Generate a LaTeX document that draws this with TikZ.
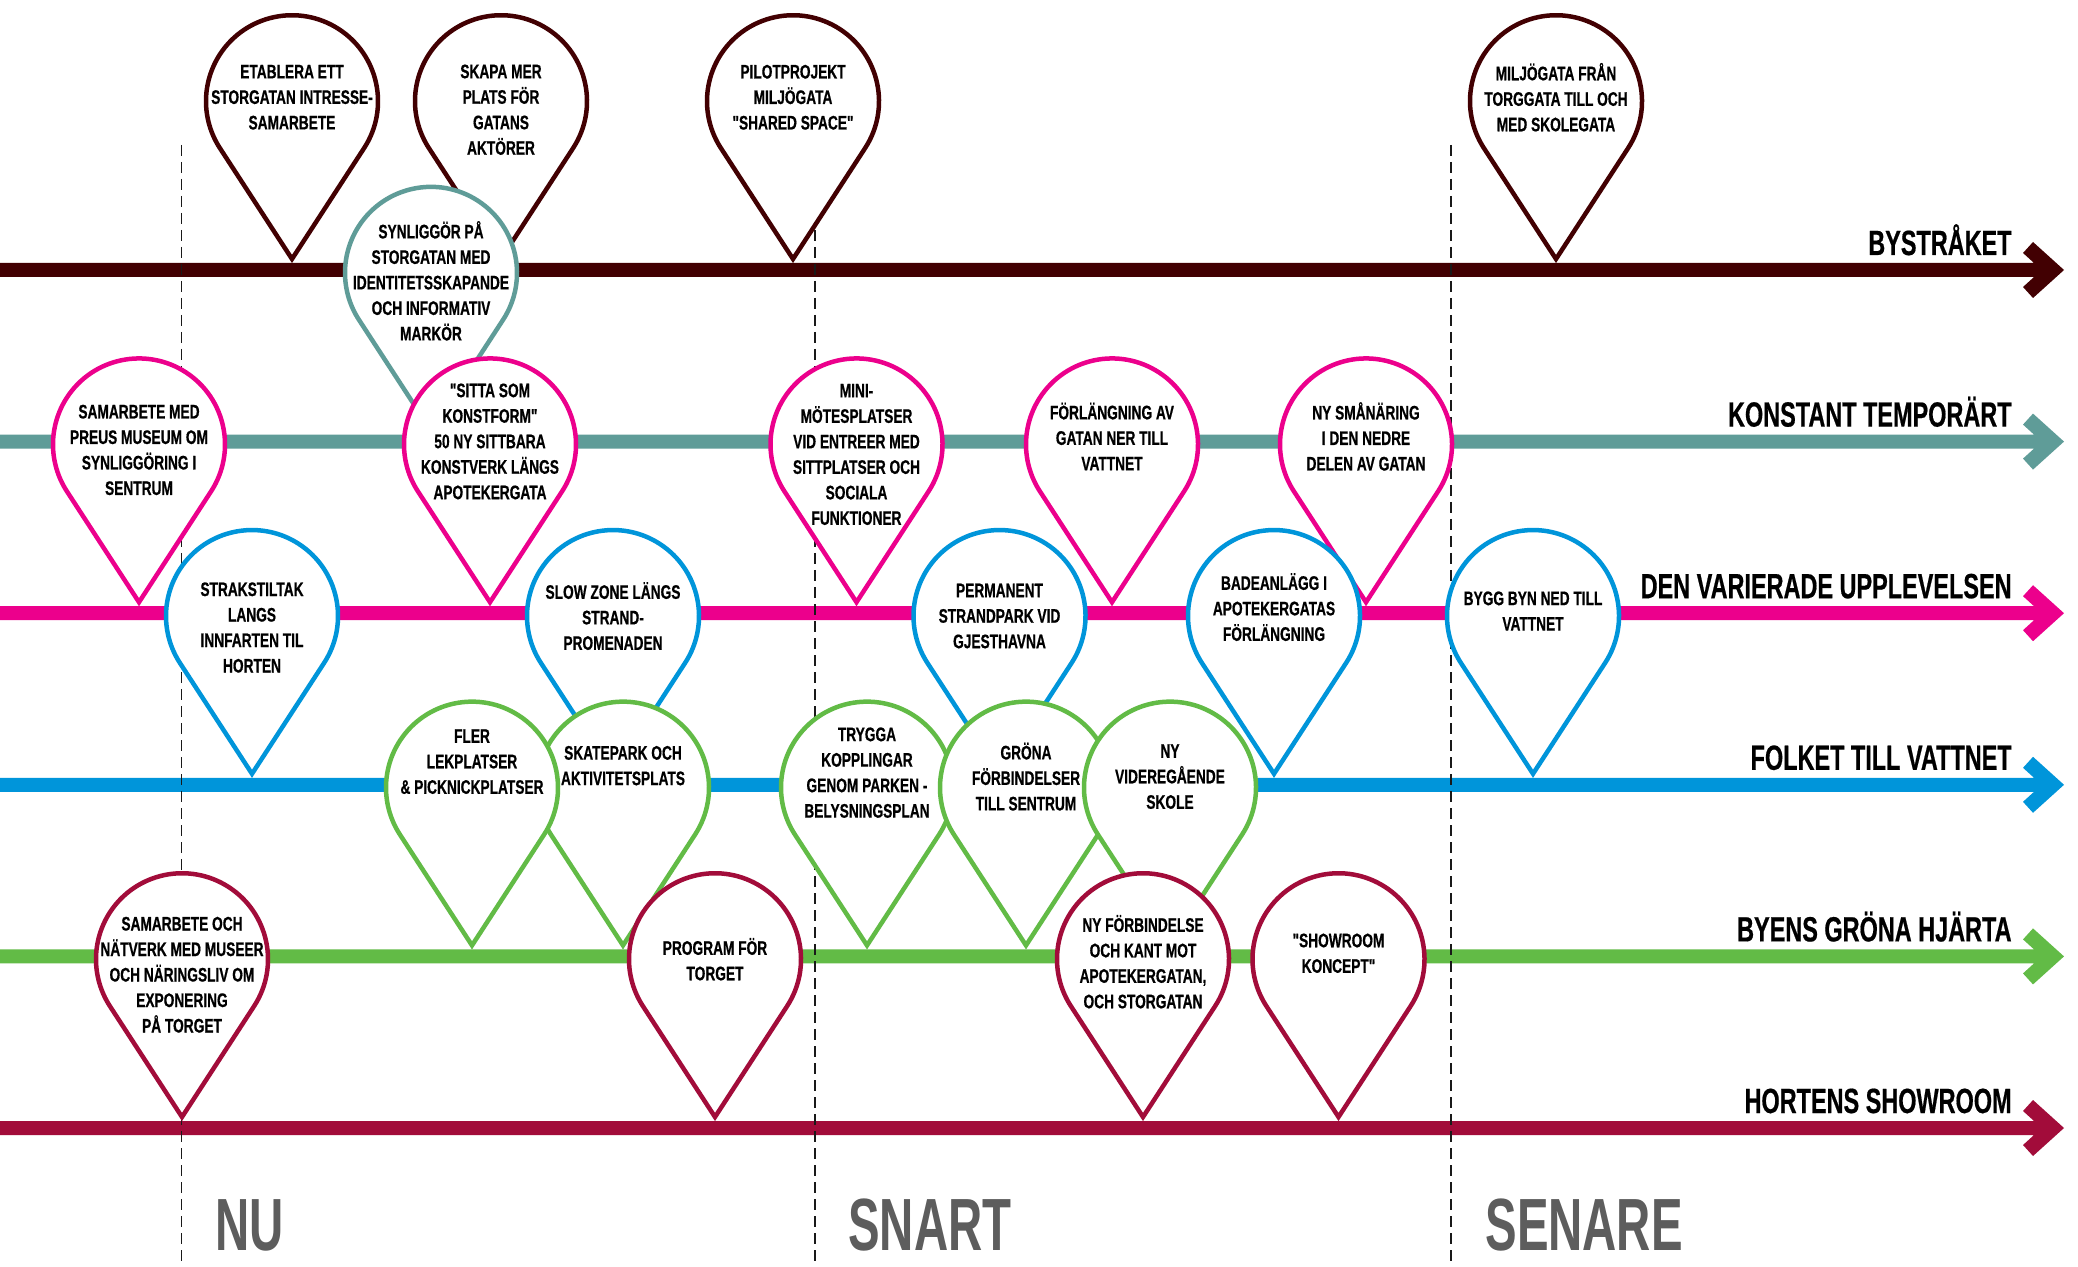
\documentclass[tikz,border=0pt]{standalone}
\usepackage{fontspec}
\newfontfamily\pinfont{Liberation Sans}[FakeStretch=0.7, FakeBold=0.6]
\newfontfamily\labfont{Liberation Sans}[FakeStretch=0.67, FakeBold=0.5]
\newfontfamily\timefont{Liberation Sans}[FakeStretch=0.64]
\definecolor{cbys}{HTML}{420002}
\definecolor{ckon}{HTML}{5F9C98}
\definecolor{cvar}{HTML}{EC008C}
\definecolor{cfol}{HTML}{0095DA}
\definecolor{cgro}{HTML}{62BB46}
\definecolor{csho}{HTML}{A20C3A}
\definecolor{tgrey}{HTML}{5D5D5D}
\tikzset{
  pinline/.style={line width=2.25pt, fill=white, line join=miter, miter limit=10},
  pintext/.style={font=\pinfont\bfseries\fontsize{9.8}{12.75}\selectfont, align=center, inner sep=0pt, text=black},
  rowlabel/.style={font=\labfont\bfseries\fontsize{17.5}{20}\selectfont, anchor=base east, inner sep=0pt, text=black},
  timelabel/.style={font=\timefont\bfseries\fontsize{37}{40}\selectfont, anchor=base west, inner sep=0pt, text=tgrey},
  divider/.style={draw=black!90, line width=0.8pt, dash pattern=on 5.5pt off 3pt},
}
% timeline arrow: #1 colour, #2 centre Y
\newcommand\timeline[2]{%
  \fill[#1] (0,#2-7) -- (2034,#2-7) -- (2023,#2-17) -- (2033,#2-28) -- (2064,#2)
    -- (2033,#2+28) -- (2023,#2+17) -- (2034,#2+7) -- (0,#2+7) -- cycle;}
% pin: #1 name, #2 colour, #3 x, #4 line Y, #5 text offset (down), #6 text
\newcommand\pinmark[6]{%
  \draw[pinline, draw=#2] (#3,#4+11) -- (#3+72.1,#4+121.87)
    arc[start angle=-33.03, end angle=213.03, radius=86] -- cycle;
  \node[pintext] (#1) at (#3,#4+168.75-#5) {#6};}
\begin{document}
\begin{tikzpicture}[x=0.5pt, y=0.5pt]
\fill[white] (0,0) rectangle (2078,1266);
\useasboundingbox (0,0) rectangle (2078,1266);
% timelines
\timeline{cbys}{996}
\timeline{ckon}{824.4}
\timeline{cvar}{652.8}
\timeline{cfol}{481.2}
\timeline{cgro}{309.6}
\timeline{csho}{138}
% period dividers
\coordinate (d1t) at (181.6,1121); \coordinate (d1b) at (181.6,0);
\coordinate (d2t) at (815,1121);   \coordinate (d2b) at (815,0);
\coordinate (d3t) at (1451,1121);  \coordinate (d3b) at (1451,0);
\draw[divider] (d1t) -- (d1b);
\draw[divider] (d2t) -- (d2b);
\draw[divider] (d3t) -- (d3b);
% row 1
\pinmark{p11}{cbys}{292}{996}{-4}{ETABLERA ETT\\STORGATAN INTRESSE-\\SAMARBETE}
\pinmark{p12}{cbys}{501}{996}{8.5}{SKAPA MER\\PLATS FÖR\\GATANS\\AKTÖRER}
\pinmark{p13}{cbys}{793}{996}{-4}{PILOTPROJEKT\\MILJÖGATA\\"SHARED SPACE"}
\pinmark{p14}{cbys}{1556}{996}{-4}{MILJÖGATA FRÅN\\TORGGATA TILL OCH\\MED SKOLEGATA}
% row 2
\pinmark{p21}{ckon}{431}{824.4}{8}{SYNLIGGÖR PÅ\\STORGATAN MED\\IDENTITETSSKAPANDE\\OCH INFORMATIV\\MARKÖR}
% row 3
\pinmark{p31}{cvar}{139}{652.8}{5.5}{SAMARBETE MED\\PREUS MUSEUM OM\\SYNLIGGÖRING I\\SENTRUM}
\pinmark{p32}{cvar}{490}{652.8}{-3}{"SITTA SOM\\KONSTFORM"\\50 NY SITTBARA\\KONSTVERK LÄNGS\\APOTEKERGATA}
\pinmark{p33}{cvar}{856.5}{652.8}{10}{MINI-\\MÖTESPLATSER\\VID ENTREER MED\\SITTPLATSER OCH\\SOCIALA\\FUNKTIONER}
\pinmark{p34}{cvar}{1112}{652.8}{-8}{FÖRLÄNGNING AV\\GATAN NER TILL\\VATTNET}
\pinmark{p35}{cvar}{1366}{652.8}{-8}{NY SMÅNÄRING\\I DEN NEDRE\\DELEN AV GATAN}
% row 4
\pinmark{p41}{cfol}{252}{481.2}{11.5}{STRAKSTILTAK\\LANGS\\INNFARTEN TIL\\HORTEN}
\pinmark{p42}{cfol}{613}{481.2}{0}{SLOW ZONE LÄNGS\\STRAND-\\PROMENADEN}
\pinmark{p43}{cfol}{999.5}{481.2}{0}{PERMANENT\\STRANDPARK VID\\GJESTHAVNA}
\pinmark{p44}{cfol}{1274}{481.2}{-9}{BADEANLÄGG I\\APOTEKERGATAS\\FÖRLÄNGNING}
\pinmark{p45}{cfol}{1533}{481.2}{-5}{BYGG BYN NED TILL\\VATTNET}
% row 5
\pinmark{p52}{cgro}{623}{309.6}{-22}{SKATEPARK OCH\\AKTIVITETSPLATS}
\pinmark{p51}{cgro}{472}{309.6}{-26}{FLER\\LEKPLATSER\\\& PICKNICKPLATSER}
\pinmark{p53}{cgro}{867}{309.6}{-15}{TRYGGA\\KOPPLINGAR\\GENOM PARKEN -\\BELYSNINGSPLAN}
\pinmark{p54}{cgro}{1026}{309.6}{-11}{GRÖNA\\FÖRBINDELSER\\TILL SENTRUM}
\pinmark{p55}{cgro}{1170}{309.6}{-11}{NY\\VIDEREGÅENDE\\SKOLE}
% row 6
\pinmark{p61}{csho}{182}{138}{15.5}{SAMARBETE OCH\\NÄTVERK MED MUSEER\\OCH NÄRINGSLIV OM\\EXPONERING\\PÅ TORGET}
\pinmark{p62}{csho}{715}{138}{0}{PROGRAM FÖR\\TORGET}
\pinmark{p63}{csho}{1143}{138}{2.5}{NY FÖRBINDELSE\\OCH KANT MOT\\APOTEKERGATAN,\\OCH STORGATAN}
\pinmark{p64}{csho}{1338.5}{138}{-6}{"SHOWROOM\\KONCEPT"}
% row labels
\node[rowlabel] (l1) at (2012,1011) {BYSTRÅKET};
\node[rowlabel] (l2) at (2012,839.4) {KONSTANT TEMPORÄRT};
\node[rowlabel] (l3) at (2012,667.8) {DEN VARIERADE UPPLEVELSEN};
\node[rowlabel] (l4) at (2012,496.2) {FOLKET TILL VATTNET};
\node[rowlabel] (l5) at (2012,324.6) {BYENS GRÖNA HJÄRTA};
\node[rowlabel] (l6) at (2012,153) {HORTENS SHOWROOM};
% period labels
\node[timelabel] (t1) at (215,16) {NU};
\node[timelabel] (t2) at (848,16) {SNART};
\node[timelabel] (t3) at (1485,16) {SENARE};
\end{tikzpicture}
\end{document}
